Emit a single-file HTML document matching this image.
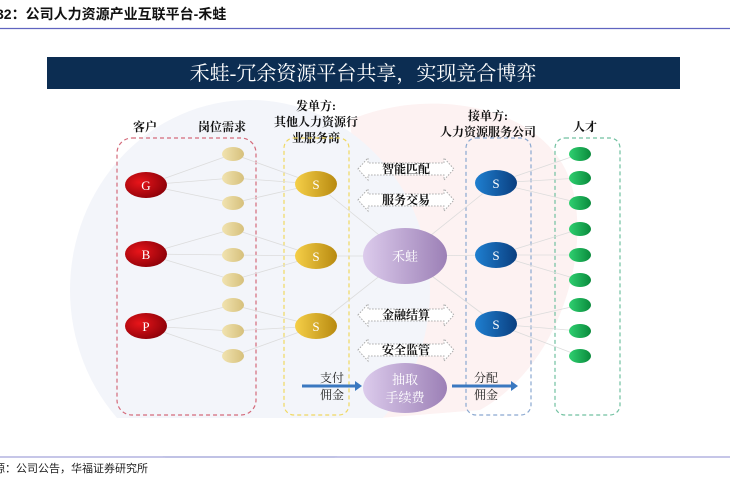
<!DOCTYPE html>
<html><head><meta charset="utf-8"><style>
html,body{margin:0;padding:0;background:#fff;}
body{width:730px;height:475px;overflow:hidden;position:relative;font-family:"Liberation Serif","Noto Serif CJK SC",serif;}
</style></head><body>
<svg width="730" height="475" viewBox="0 0 730 475" xmlns="http://www.w3.org/2000/svg">
<defs>
<radialGradient id="red" cx="0.35" cy="0.4" r="0.7"><stop offset="0" stop-color="#e8151a"/><stop offset="1" stop-color="#8a0008"/></radialGradient>
<linearGradient id="gold" x1="0" x2="1"><stop offset="0" stop-color="#f5cf48"/><stop offset="1" stop-color="#b88a10"/></linearGradient>
<linearGradient id="tan" x1="0" x2="1"><stop offset="0" stop-color="#f1e3b0"/><stop offset="1" stop-color="#d6c07c"/></linearGradient>
<linearGradient id="blue" x1="0" x2="1"><stop offset="0" stop-color="#1f7fd0"/><stop offset="1" stop-color="#0a3f80"/></linearGradient>
<linearGradient id="green" x1="0" x2="1"><stop offset="0" stop-color="#2fd070"/><stop offset="1" stop-color="#0a8a3c"/></linearGradient>
<linearGradient id="purple" x1="0" x2="1"><stop offset="0" stop-color="#dccbec"/><stop offset="1" stop-color="#9c80b6"/></linearGradient>
</defs>
<text x="-4" y="19" font-family="Liberation Sans,'Noto Sans CJK SC',sans-serif" font-size="14" font-weight="bold" fill="#111">32：公司人力资源产业互联平台-禾蛙</text>
<line x1="0" y1="28.5" x2="730" y2="28.5" stroke="#6064c0" stroke-width="1.2"/>
<!-- watermark -->
<path d="M350,120 C420,90 520,100 560,160 C600,220 570,360 480,410 L380,418 Z" fill="#fdf2f2"/>
<ellipse cx="250" cy="290" rx="180" ry="190" fill="#f3f5fa"/>
<rect x="0" y="418" width="730" height="38" fill="#fff"/>
<rect x="0" y="458" width="730" height="20" fill="#fff"/>
<rect x="47" y="57" width="633" height="32" fill="#0c2d52"/>
<text x="363" y="80" text-anchor="middle" font-size="20" fill="#fff">禾蛙-冗余资源平台共享，实现竞合博弈</text>
<g font-size="12" fill="#111" text-anchor="middle" font-weight="bold">
<text x="145" y="131">客户</text><text x="222" y="131">岗位需求</text>
<text x="316" y="110">发单方:</text><text x="316" y="126">其他人力资源行</text><text x="316" y="142">业服务商</text>
<text x="488" y="120">接单方:</text><text x="488" y="136">人力资源服务公司</text><text x="585" y="131">人才</text>
</g>
<g fill="none" stroke-dasharray="4,3" stroke-width="1.2">
<rect x="117" y="138" width="139" height="277" rx="15" stroke="#d46a7a"/>
<rect x="284" y="138" width="65" height="277" rx="10" stroke="#f0d860"/>
<rect x="466" y="138" width="65" height="277" rx="10" stroke="#8aa8d0"/>
<rect x="555" y="138" width="65" height="277" rx="10" stroke="#70c0a0"/>
</g>
<g stroke="#dcdcdc" stroke-width="0.8">
<line x1="146" y1="185" x2="233" y2="154"/><line x1="146" y1="185" x2="233" y2="178"/><line x1="146" y1="185" x2="233" y2="203"/>
<line x1="146" y1="254" x2="233" y2="229"/><line x1="146" y1="254" x2="233" y2="255"/><line x1="146" y1="254" x2="233" y2="280"/>
<line x1="146" y1="326" x2="233" y2="305"/><line x1="146" y1="326" x2="233" y2="331"/><line x1="146" y1="326" x2="233" y2="356"/>
<line x1="233" y1="154" x2="316" y2="184"/><line x1="233" y1="178" x2="316" y2="184"/><line x1="233" y1="203" x2="316" y2="184"/>
<line x1="233" y1="229" x2="316" y2="256"/><line x1="233" y1="255" x2="316" y2="256"/><line x1="233" y1="280" x2="316" y2="256"/>
<line x1="233" y1="305" x2="316" y2="326"/><line x1="233" y1="331" x2="316" y2="326"/><line x1="233" y1="356" x2="316" y2="326"/>
<line x1="316" y1="184" x2="405" y2="256"/><line x1="316" y1="256" x2="405" y2="256"/><line x1="316" y1="326" x2="405" y2="256"/>
<line x1="405" y1="256" x2="496" y2="183"/><line x1="405" y1="256" x2="496" y2="255"/><line x1="405" y1="256" x2="496" y2="324"/>
<line x1="496" y1="183" x2="580" y2="154"/><line x1="496" y1="183" x2="580" y2="178"/><line x1="496" y1="183" x2="580" y2="203"/>
<line x1="496" y1="255" x2="580" y2="229"/><line x1="496" y1="255" x2="580" y2="255"/><line x1="496" y1="255" x2="580" y2="280"/>
<line x1="496" y1="324" x2="580" y2="305"/><line x1="496" y1="324" x2="580" y2="331"/><line x1="496" y1="324" x2="580" y2="356"/>
</g>
<g fill="url(#tan)">
<ellipse cx="233" cy="154" rx="11" ry="7"/><ellipse cx="233" cy="178" rx="11" ry="7"/><ellipse cx="233" cy="203" rx="11" ry="7"/>
<ellipse cx="233" cy="229" rx="11" ry="7"/><ellipse cx="233" cy="255" rx="11" ry="7"/><ellipse cx="233" cy="280" rx="11" ry="7"/>
<ellipse cx="233" cy="305" rx="11" ry="7"/><ellipse cx="233" cy="331" rx="11" ry="7"/><ellipse cx="233" cy="356" rx="11" ry="7"/>
</g>
<g fill="url(#green)">
<ellipse cx="580" cy="154" rx="11" ry="7"/><ellipse cx="580" cy="178" rx="11" ry="7"/><ellipse cx="580" cy="203" rx="11" ry="7"/>
<ellipse cx="580" cy="229" rx="11" ry="7"/><ellipse cx="580" cy="255" rx="11" ry="7"/><ellipse cx="580" cy="280" rx="11" ry="7"/>
<ellipse cx="580" cy="305" rx="11" ry="7"/><ellipse cx="580" cy="331" rx="11" ry="7"/><ellipse cx="580" cy="356" rx="11" ry="7"/>
</g>
<g font-size="13" fill="#fff" text-anchor="middle">
<ellipse cx="146" cy="185" rx="21" ry="13" fill="url(#red)"/><text x="146" y="190">G</text>
<ellipse cx="146" cy="254" rx="21" ry="13" fill="url(#red)"/><text x="146" y="259">B</text>
<ellipse cx="146" cy="326" rx="21" ry="13" fill="url(#red)"/><text x="146" y="331">P</text>
<ellipse cx="316" cy="184" rx="21" ry="13" fill="url(#gold)"/><text x="316" y="189">S</text>
<ellipse cx="316" cy="256" rx="21" ry="13" fill="url(#gold)"/><text x="316" y="261">S</text>
<ellipse cx="316" cy="326" rx="21" ry="13" fill="url(#gold)"/><text x="316" y="331">S</text>
<ellipse cx="496" cy="183" rx="21" ry="13" fill="url(#blue)"/><text x="496" y="188">S</text>
<ellipse cx="496" cy="255" rx="21" ry="13" fill="url(#blue)"/><text x="496" y="260">S</text>
<ellipse cx="496" cy="324" rx="21" ry="13" fill="url(#blue)"/><text x="496" y="329">S</text>
<ellipse cx="405" cy="256" rx="42" ry="28" fill="url(#purple)"/><text x="405" y="261">禾蛙</text>
<ellipse cx="405" cy="388" rx="42" ry="25" fill="url(#purple)"/><text x="405" y="384">抽取</text><text x="405" y="402">手续费</text>
</g>
<g fill="#fff" stroke="#aaa" stroke-dasharray="1.5,1.5" stroke-width="1">
<path d="M358,169 L368,158 L368,163 L444,163 L444,158 L454,169 L444,180 L444,175 L368,175 L368,180 Z"/>
<path d="M358,200 L368,189 L368,194 L444,194 L444,189 L454,200 L444,211 L444,206 L368,206 L368,211 Z"/>
<path d="M358,315 L368,304 L368,309 L444,309 L444,304 L454,315 L444,326 L444,321 L368,321 L368,326 Z"/>
<path d="M358,350 L368,339 L368,344 L444,344 L444,339 L454,350 L444,361 L444,356 L368,356 L368,361 Z"/>
</g>
<g font-size="12" font-weight="bold" fill="#111" text-anchor="middle">
<text x="406" y="173">智能匹配</text><text x="406" y="204">服务交易</text>
<text x="406" y="319">金融结算</text><text x="406" y="354">安全监管</text>
</g>
<g fill="#3a78c0" stroke="none">
<rect x="302" y="384.5" width="54" height="3"/><path d="M355,381 L362,386 L355,391 Z"/>
<rect x="452" y="384.5" width="60" height="3"/><path d="M511,381 L518,386 L511,391 Z"/>
</g>
<g font-size="12" fill="#222" text-anchor="middle">
<text x="332" y="382">支付</text><text x="332" y="399">佣金</text>
<text x="486" y="382">分配</text><text x="486" y="399">佣金</text>
</g>
<line x1="0" y1="457" x2="730" y2="457" stroke="#8c8ed0" stroke-width="1"/>
<text x="-6" y="472" font-family="Liberation Sans,'Noto Sans CJK SC',sans-serif" font-size="11" fill="#222">源：公司公告，华福证券研究所</text>
</svg>
</body></html>
